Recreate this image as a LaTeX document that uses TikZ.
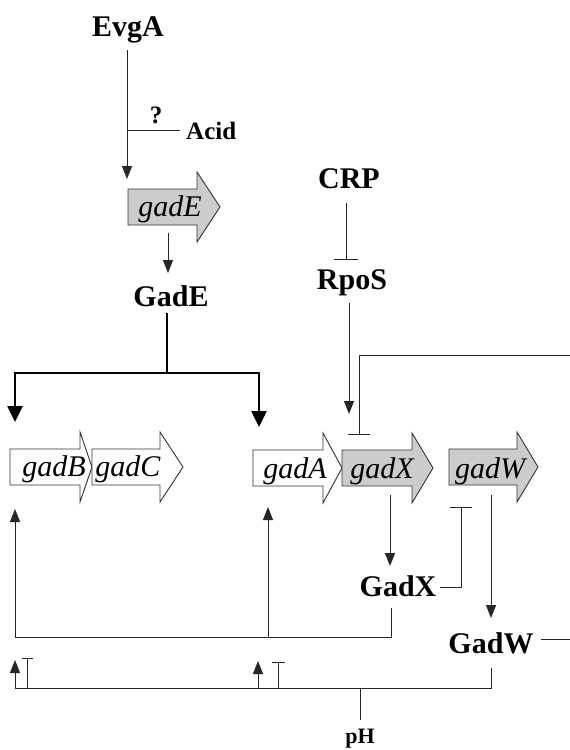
\documentclass[tikz,border=0pt]{standalone}
\usepackage{fontspec}
\setmainfont{Liberation Serif}
\usetikzlibrary{arrows.meta}

\tikzset{
  prot/.style={font=\bfseries\fontsize{30}{32}\selectfont, inner sep=0pt, anchor=base},
  cue/.style={font=\bfseries\fontsize{25}{27}\selectfont, inner sep=0pt, anchor=base},
  glabel/.style={font=\itshape\fontsize{30}{32}\selectfont, inner sep=0pt, anchor=base},
  wire/.style={line width=1pt, draw=black!85},
  act/.style={wire, -{Triangle[width=10pt,length=13pt]}},
  inh/.style={wire, -{Bar[width=22pt]}},
  bigact/.style={line width=2.5pt, -{Triangle[width=15pt,length=16pt]}},
  gene/.style={line width=0.9pt, draw=black!80},
}

\begin{document}
\begin{tikzpicture}[x=1pt,y=-1pt]
\useasboundingbox (0,0) rectangle (570,750);

  % gene arrows
  \foreach \g/\xa/\xb/\xc/\yc/\col in {gadB/10/80/92/467/white,gadC/92/160/183/467/white,
      gadA/253/323/342/468/white,gadX/342/412/433/468/black!20,gadW/449/517/538/467/black!20,
      gadE/128/197/220/207/black!20} {
    \pgfmathsetmacro{\ytop}{\yc-18}
    \pgfmathsetmacro{\ybot}{\yc+18}
    \draw[gene,fill=\col] (\xa,\ytop) -- (\xb,\ytop) -- (\xb,\yc-35) -- (\xc,\yc)
      -- (\xb,\yc+35) -- (\xb,\ybot) -- (\xa,\ybot) -- cycle;
  }
  \foreach \g/\x/\y in {gadB/54/476,gadC/128/476,gadA/295/478,gadX/382/478,gadW/490/478,gadE/170/216} {
    \node[glabel] (g-\g) at (\x,\y) {\g};
  }

  % proteins and signals
  \node[prot] (evga) at (128,36) {EvgA};
  \node[prot] (gadEp) at (171,306) {GadE};
  \node[prot] (crp) at (349,188) {CRP};
  \node[prot] (rpos) at (352,289) {RpoS};
  \node[prot] (gadXp) at (398,596) {GadX};
  \node[prot] (gadWp) at (491,653) {GadW};
  \node[cue] (quest) at (156,123) {?};
  \node[cue,anchor=base west] (acid) at (186,139) {Acid};
  \node[font=\bfseries\fontsize{22}{24}\selectfont,inner sep=0pt,anchor=base] (ph) at (360,743) {pH};

  \coordinate (e1) at (127,50);
  \coordinate (e2) at (127,179);
  \coordinate (acidj) at (127,130);
  \coordinate (acide) at (180,130);
  \coordinate (ge1) at (168,233);
  \coordinate (ge2) at (168,273);
  \coordinate (gp1) at (167,313);
  \coordinate (split) at (167,373);
  \coordinate (tobc) at (15,422);
  \coordinate (toa) at (259,427);
  \coordinate (crp1) at (346,203);
  \coordinate (crp2) at (346,260);
  \coordinate (rpo1) at (349,303);
  \coordinate (rpo2) at (349,414);
  \coordinate (fbin) at (570,355);
  \coordinate (fbx) at (359,435);
  \coordinate (x1) at (390,495);
  \coordinate (x2) at (390,566);
  \coordinate (w1) at (491,495);
  \coordinate (w2) at (491,618);
  \coordinate (xw1) at (440,587);
  \coordinate (xw2) at (461,507);
  \coordinate (wout1) at (541,639);
  \coordinate (wout2) at (570,639);
  \coordinate (xd) at (391,608);
  \coordinate (lowl) at (15,637);
  \coordinate (lowm) at (268,637);
  \coordinate (tob) at (15,509);
  \coordinate (toa2) at (268,507);
  \coordinate (ph1) at (360,720);
  \coordinate (ph2) at (360,688);
  \coordinate (phl) at (15,688);
  \coordinate (phr) at (491,688);
  \coordinate (wd) at (491,668);

  % EvgA, acid
  \draw[act] (e1) -- (e2);
  \draw[wire] (acidj) -- (acide);
  \draw[act] (ge1) -- (ge2);

  % GadE activates gadBC and gadA
  \draw[line width=2.5pt] (gp1) -- (split);
  \draw[bigact] (split) -| (tobc);
  \draw[bigact] (split) -| (toa);

  % CRP, RpoS
  \draw[inh,-{Bar[width=24pt]}] (crp1) -- (crp2);
  \draw[act] (rpo1) -- (rpo2);
  \draw[inh] (fbin) -| (fbx);

  % GadX, GadW
  \draw[act] (x1) -- (x2);
  \draw[act] (w1) -- (w2);
  \draw[inh] (xw1) -| (xw2);
  \draw[wire] (wout1) -- (wout2);
  \draw[wire] (xd) |- (lowl);
  \draw[act] (lowl) -- (tob);
  \draw[act] (lowm) -- (toa2);

  % pH
  \draw[wire] (ph1) -- (ph2);
  \draw[wire] (phl) -- (phr) -- (wd);
  \draw[act] (phl) -- (15,660);
  \draw[inh,-{Bar[width=11pt]}] (27,688) -- (27,658);
  \draw[act] (258,688) -- (258,661);
  \draw[inh,-{Bar[width=13pt]}] (278,688) -- (278,662);
\end{tikzpicture}
\end{document}
